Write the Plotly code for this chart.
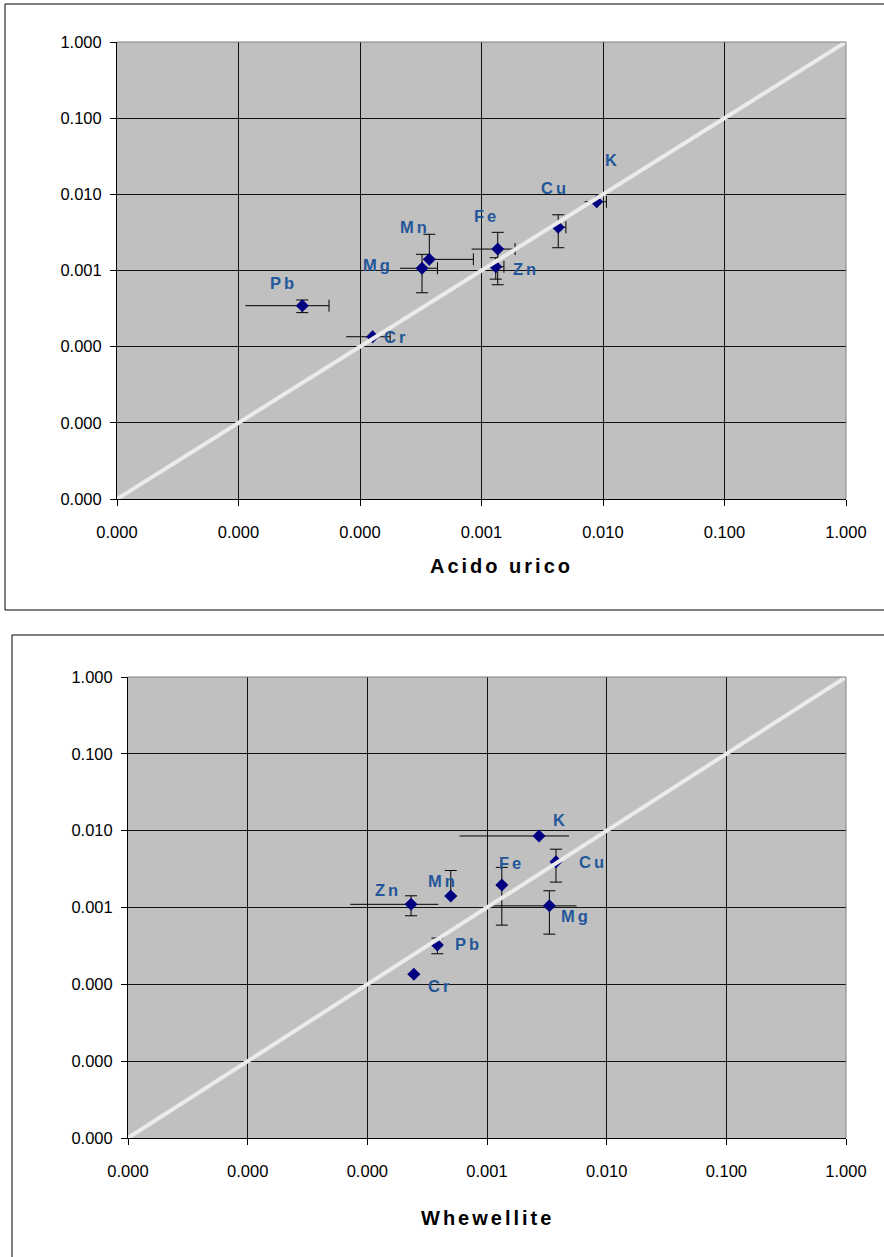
import math
import plotly.graph_objects as go

W, H = 884, 1257

# ---------------- data ----------------
tick_vals = [1e-6, 1e-5, 1e-4, 1e-3, 1e-2, 1e-1, 1.0]
tick_text = ["0.000", "0.000", "0.000", "0.001", "0.010", "0.100", "1.000"]

# Chart A : Acido urico
elements_a = ["K", "Cu", "Fe", "Zn", "Mn", "Mg", "Pb", "Cr"]
x_a = [0.00887, 0.00428, 0.00136, 0.00131, 0.000372, 0.000324, 0.0000335, 0.000127]
y_a = [0.0080, 0.00369, 0.00191, 0.00112, 0.00140, 0.00107, 0.000345, 0.000135]
xerr_a = [0.0018, 0.00067, 0.00053, 0.00022, 0.000485, 0.00011, 0.0000221, 0.00005]
yerr_a = [0.0, 0.0017, 0.00126, 0.00035, 0.00159, 0.00056, 0.000065, 0.0]

# Chart B : Whewellite
elements_b = ["K", "Cu", "Fe", "Mg", "Mn", "Zn", "Pb", "Cr"]
x_b = [0.00272, 0.00377, 0.00133, 0.00332, 0.000498, 0.000232, 0.000385, 0.000245]
y_b = [0.00853, 0.00394, 0.00196, 0.00105, 0.00141, 0.00110, 0.000325, 0.000135]
xerr_b = [0.00213, 0.0, 0.0, 0.00228, 0.0, 0.00016, 0.0, 0.0]
yerr_b = [0.0, 0.0018, 0.00137, 0.0006, 0.00162, 0.00032, 0.000075, 0.0]

diag = [1e-6, 1.0]

title_a = "Acido urico"
title_b = "Whewellite"

# label offsets in pixels (dx right, dy down)
label_off_a = {"K": (16, -42), "Cu": (-3, -39), "Fe": (-11, -33), "Zn": (30, 2),
               "Mn": (-14, -32), "Mg": (-44, -3), "Pb": (-19, -23), "Cr": (23, 0)}
label_off_b = {"K": (21, -16), "Cu": (37, 0), "Fe": (10, -22), "Mg": (27, 10),
               "Mn": (-8, -15), "Zn": (-23, -14), "Pb": (31, -1), "Cr": (26, 12)}

# ---------------- styling ----------------
FONT = "Liberation Sans, Arial, sans-serif"
NAVY = "#000080"
LABEL_COL = "#23579A"
PLOT_BG = "#C0C0C0"
LINE_COL = "#EBEBEB"


def px_x(p):
    return p / W


def px_y(p):
    return 1 - p / H


def spaced(t, sp):
    return '<span style="letter-spacing:%dpx">%s</span>' % (sp, t)


def minus_clip(vals, errs):
    # Excel omits the lower bar when it would fall at or below zero on a log axis
    return [e if v - e > 0 else 0.0 for v, e in zip(vals, errs)]


fig = go.Figure()


def add_panel(xs, ys, xerr, yerr, xa, ya, x_caps):
    zeros = [0.0] * len(xs)
    # minus side of x error (no caps)
    fig.add_trace(go.Scatter(
        x=xs, y=ys, mode="markers", xaxis=xa, yaxis=ya,
        marker=dict(size=1, color="rgba(0,0,0,0)"),
        error_x=dict(type="data", symmetric=False, array=zeros,
                     arrayminus=minus_clip(xs, xerr), color="black",
                     thickness=1, width=0),
        showlegend=False, hoverinfo="skip"))
    # main markers with plus x error and y error
    fig.add_trace(go.Scatter(
        x=xs, y=ys, mode="markers", xaxis=xa, yaxis=ya,
        marker=dict(symbol="diamond", size=10, color=NAVY, line=dict(width=0)),
        error_x=dict(type="data", symmetric=False, array=xerr, arrayminus=zeros,
                     color="black", thickness=1, width=6 if x_caps else 0),
        error_y=dict(type="data", symmetric=False, array=yerr,
                     arrayminus=minus_clip(ys, yerr), color="black",
                     thickness=1, width=6),
        showlegend=False))
    # y = x line
    fig.add_trace(go.Scatter(
        x=diag, y=diag, mode="lines", xaxis=xa, yaxis=ya,
        line=dict(color=LINE_COL, width=4), showlegend=False, hoverinfo="skip"))


add_panel(x_a, y_a, xerr_a, yerr_a, "x", "y", True)
add_panel(x_b, y_b, xerr_b, yerr_b, "x2", "y2", False)

axis_common = dict(
    type="log", range=[-6, 0], tickmode="array", tickvals=tick_vals,
    ticktext=tick_text, showgrid=True, gridcolor="#111111", gridwidth=1,
    showline=True, linecolor="#000000", linewidth=1, ticks="outside",
    ticklen=6, tickcolor="#000000", zeroline=False, automargin=False,
    tickfont=dict(family=FONT, size=16.5, color="#000000"),
)

dom_a_x = [px_x(117), px_x(846)]
dom_a_y = [px_y(499), px_y(42)]
dom_b_x = [px_x(128), px_x(846)]
dom_b_y = [px_y(1138), px_y(677)]

fig.update_layout(
    width=W, height=H, autosize=False,
    margin=dict(l=0, r=0, t=0, b=0),
    paper_bgcolor="white", plot_bgcolor=PLOT_BG,
    xaxis=dict(domain=dom_a_x, anchor="y", ticklabelstandoff=12, **axis_common),
    yaxis=dict(domain=dom_a_y, anchor="x", ticklabelstandoff=5, **axis_common),
    xaxis2=dict(domain=dom_b_x, anchor="y2", ticklabelstandoff=12, **axis_common),
    yaxis2=dict(domain=dom_b_y, anchor="x2", ticklabelstandoff=5, **axis_common),
)

shapes = [
    # outer chart frames
    dict(type="rect", xref="paper", yref="paper", x0=px_x(5), x1=1.05,
         y0=px_y(610), y1=px_y(4), line=dict(color="black", width=1),
         fillcolor="rgba(0,0,0,0)", layer="below"),
    dict(type="rect", xref="paper", yref="paper", x0=px_x(12), x1=1.05,
         y0=-0.05, y1=px_y(635), line=dict(color="black", width=1),
         fillcolor="rgba(0,0,0,0)", layer="below"),
    # plot-area borders (top / right grey)
    dict(type="line", xref="x domain", yref="y domain", x0=0, x1=1, y0=1, y1=1,
         line=dict(color="#808080", width=1)),
    dict(type="line", xref="x domain", yref="y domain", x0=1, x1=1, y0=0, y1=1,
         line=dict(color="#808080", width=1)),
    dict(type="line", xref="x2 domain", yref="y2 domain", x0=0, x1=1, y0=1, y1=1,
         line=dict(color="#808080", width=1)),
    dict(type="line", xref="x2 domain", yref="y2 domain", x0=1, x1=1, y0=0, y1=1,
         line=dict(color="#808080", width=1)),
]
fig.update_layout(shapes=shapes)

annotations = []
for names, xs, ys, offs, xr, yr in [
        (elements_a, x_a, y_a, label_off_a, "x", "y"),
        (elements_b, x_b, y_b, label_off_b, "x2", "y2")]:
    for n, xv, yv in zip(names, xs, ys):
        dx, dy = offs[n]
        annotations.append(dict(
            x=math.log10(xv), y=math.log10(yv), xref=xr, yref=yr,
            text=spaced(n, 3), showarrow=False,
            xshift=dx, yshift=-dy, xanchor="center", yanchor="middle",
            font=dict(family=FONT, size=16.5, color=LABEL_COL, weight="bold")))

annotations.append(dict(x=px_x(501), y=px_y(566), xref="paper", yref="paper",
                        text=spaced(title_a, 3), showarrow=False,
                        xanchor="center", yanchor="middle",
                        font=dict(family=FONT, size=20, color="black", weight="bold")))
annotations.append(dict(x=px_x(487), y=px_y(1218), xref="paper", yref="paper",
                        text=spaced(title_b, 3), showarrow=False,
                        xanchor="center", yanchor="middle",
                        font=dict(family=FONT, size=20, color="black", weight="bold")))
fig.update_layout(annotations=annotations)

fig.write_html("out.html", config={"displayModeBar": False},
               post_script="document.body.style.margin='0';document.body.style.overflow='hidden';")
